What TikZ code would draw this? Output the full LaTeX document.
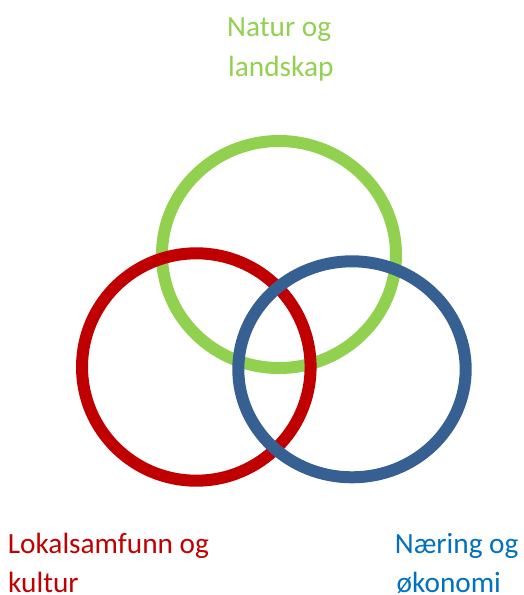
\documentclass[tikz,border=0pt]{standalone}
\usepackage{fontspec}
\setmainfont{Carlito}
\definecolor{cgreen}{HTML}{92D050}
\definecolor{cred}{HTML}{C00000}
\definecolor{cblue}{HTML}{376092}
\definecolor{tblue}{HTML}{0070C0}
\begin{document}
\begin{tikzpicture}[x=1pt,y=-1pt,
  ring/.style={line width=12pt},
  lbl/.style={anchor=base west,inner sep=0pt,font=\fontsize{29.3}{40}\selectfont}]
\useasboundingbox (0,0) rectangle (524,595);
\draw[ring,cgreen] (279,254.5) ellipse [x radius=117pt,y radius=113.5pt];
\draw[ring,cred] (196.3,367) ellipse [x radius=114.3pt,y radius=113.7pt];
\draw[ring,cblue] (352,369.3) ellipse [x radius=113.7pt,y radius=108pt];
\node[lbl,text=cgreen] (n1) at (227,36) {Natur og};
\node[lbl,text=cgreen] (n2) at (228,76.3) {landskap};
\node[lbl,text=cred] (l1) at (7.7,553.3) {Lokalsamfunn og};
\node[lbl,text=cred] (l2) at (8,592) {kultur};
\node[lbl,text=tblue] (e1) at (394.7,553.3) {Næring og};
\node[lbl,text=tblue] (e2) at (396.5,592) {økonomi};
\end{tikzpicture}
\end{document}
